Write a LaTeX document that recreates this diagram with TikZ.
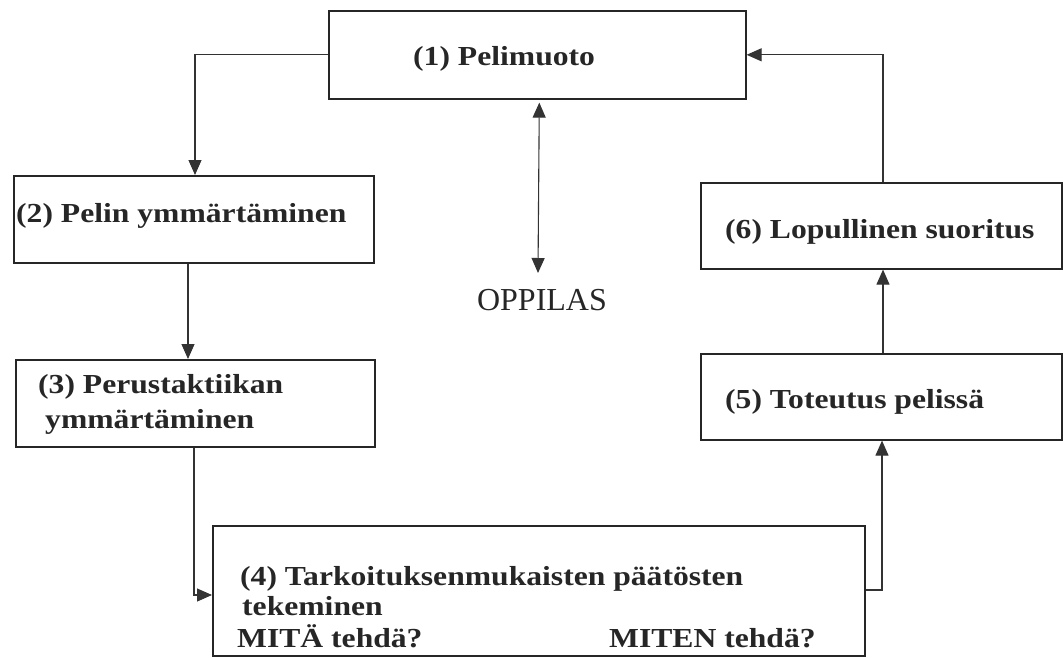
\documentclass[tikz,border=0pt]{standalone}
\usepackage{fontspec}
\setmainfont[FakeStretch=1.15]{Liberation Serif}
\newfontfamily\plainserif{Liberation Serif}
\usetikzlibrary{arrows.meta}
\begin{document}
\begin{tikzpicture}[x=1pt,y=-1pt,
  box/.style={draw=black!85, line width=1.6pt, rectangle, inner sep=0pt},
  lbl/.style={anchor=base west, inner sep=0pt, font=\fontsize{27.5}{30}\selectfont\bfseries, text=black!85},
  arr/.style={draw=black!80, line width=1.1pt, -{Triangle[length=15pt,width=13pt]}},
  dbl/.style={draw=black!80, line width=1.1pt, {Triangle[length=15pt,width=13pt]}-{Triangle[length=15pt,width=13pt]}}]
\useasboundingbox (0,0) rectangle (1063,657);
% boxes
\node[box, anchor=north west, minimum width=417pt, minimum height=88pt] (b1) at (328,10) {};
\node[box, anchor=north west, minimum width=360pt, minimum height=87pt] (b2) at (13,175) {};
\node[box, anchor=north west, minimum width=359pt, minimum height=87pt] (b3) at (15,359) {};
\node[box, anchor=north west, minimum width=652pt, minimum height=130pt] (b4) at (212,525) {};
\node[box, anchor=north west, minimum width=361pt, minimum height=86pt] (b5) at (700,353) {};
\node[box, anchor=north west, minimum width=361pt, minimum height=86pt] (b6) at (700,182) {};
% labels
\node[lbl] (t1) at (413,65) {(1) Pelimuoto};
\node[lbl] (t2) at (16,222) {(2) Pelin ymmärtäminen};
\node[lbl] (t3a) at (38,393) {(3) Perustaktiikan};
\node[lbl] (t3b) at (45,428) {ymmärtäminen};
\node[lbl] (t4a) at (240,585) {(4) Tarkoituksenmukaisten päätösten};
\node[lbl] (t4b) at (242,615) {tekeminen};
\node[lbl] (t4c) at (237,647) {MITÄ tehdä?};
\node[lbl] (t4d) at (609,647) {MITEN tehdä?};
\node[lbl] (t5) at (725,408) {(5) Toteutus pelissä};
\node[lbl] (t6) at (725,238) {(6) Lopullinen suoritus};
\node[anchor=north, inner sep=0pt, font=\plainserif\fontsize{32}{34}\selectfont, text=black!85] (opp) at (542,289) {OPPILAS};
% connectors
\draw[arr] (b1.west) -| ([xshift=182pt]b2.north west);
\draw[arr] ([xshift=175pt]b2.south west) -- ([xshift=175pt]b2.south west |- b3.north);
\draw[arr] ([xshift=179pt]b3.south west) |- ([yshift=-70pt]b4.north west);
\draw[arr] ([yshift=-65pt]b4.north east) -| ([xshift=182pt]b5.south west);
\draw[arr] ([xshift=183pt]b5.north west) -- ([xshift=183pt]b6.south west);
\draw[arr] ([xshift=183pt]b6.north west) |- (b1.east);
\draw[dbl] ([xshift=2pt,yshift=-3pt]b1.south) -- ([xshift=-4pt,yshift=16pt]opp.north);
\end{tikzpicture}
\end{document}
